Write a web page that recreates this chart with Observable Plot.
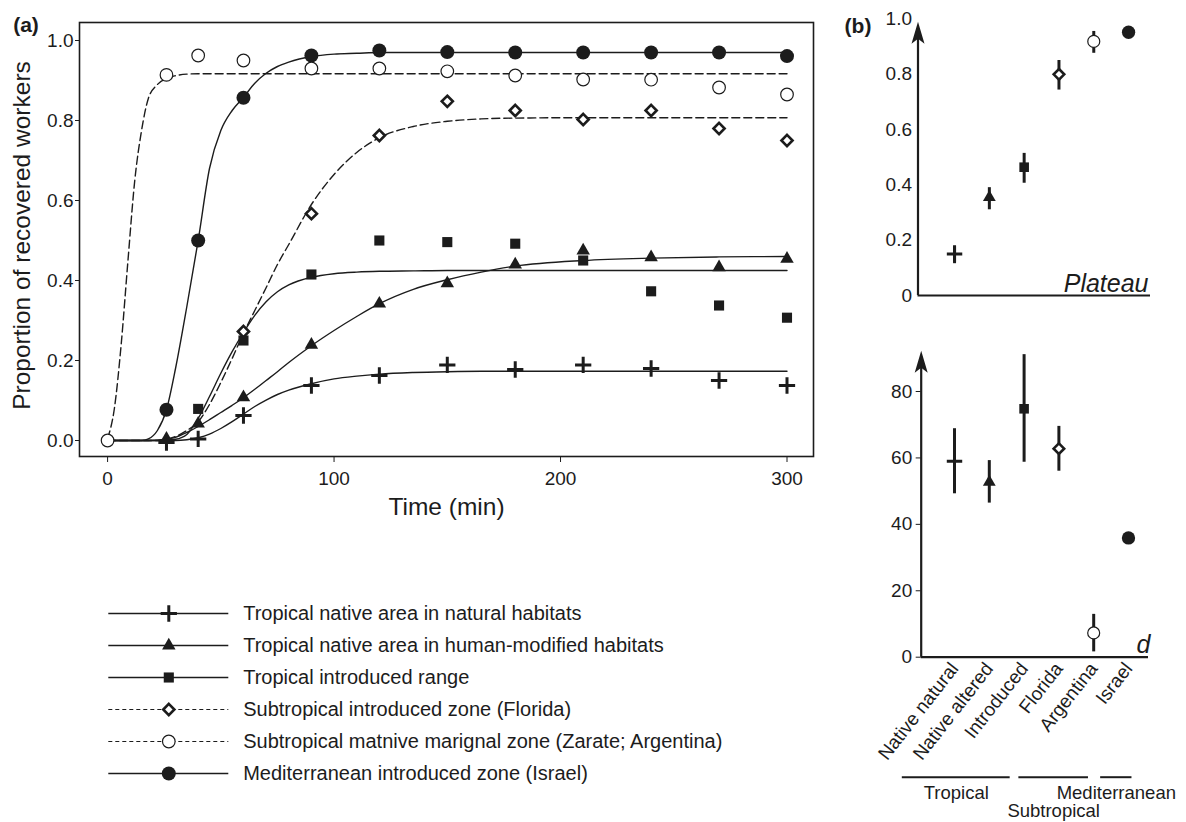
<!DOCTYPE html>
<html><head><meta charset="utf-8">
<script src="https://cdn.jsdelivr.net/npm/d3@7"></script>
<script src="https://cdn.jsdelivr.net/npm/@observablehq/plot@0.6"></script>
<style>
html,body{margin:0;padding:0;background:#fff;}
#root{position:relative;width:1186px;height:822px;overflow:hidden;font-family:"Liberation Sans",Arial,Helvetica,sans-serif;}
.panel{position:absolute;}
.panel svg{overflow:visible;}
</style></head><body><div id="root"></div>
<script>
// ---------------- DATA ----------------
const legendLabels = [
  "Tropical native area in natural habitats",
  "Tropical native area in human-modified habitats",
  "Tropical introduced range",
  "Subtropical introduced zone (Florida)",
  "Subtropical matnive marignal zone (Zarate; Argentina)",
  "Mediterranean introduced zone (Israel)"
];
const times = [0, 26, 40, 60, 90, 120, 150, 180, 210, 240, 270, 300];
const obsNatural   = [null, -0.005, 0.004, 0.0625, 0.1375, 0.1625, 0.189, 0.1775, 0.189, 0.18, 0.15, 0.1375];
const obsAltered   = [null, 0.004, 0.042, 0.108, 0.239, 0.342, 0.393, 0.44, 0.475, 0.458, 0.433, 0.454];
const obsIntroduced= [null, null, 0.079, 0.25, 0.415, 0.5, 0.496, 0.492, 0.45, 0.373, 0.3375, 0.307];
const obsFlorida   = [null, null, null, 0.2725, 0.567, 0.7625, 0.848, 0.825, 0.8025, 0.825, 0.78, 0.75];
const obsArgentina = [0, 0.914, 0.9625, 0.95, 0.93, 0.93, 0.923, 0.9125, 0.9025, 0.902, 0.8825, 0.865];
const obsIsrael    = [null, 0.077, 0.50, 0.857, 0.9625, 0.975, 0.971, 0.97, 0.97, 0.97, 0.97, 0.961];

// fitted curves
const fitT = [0, 3, 6, 9, 12, 15, 18, 22, 26, 30, 35, 40, 45, 50, 55, 60, 65, 70, 75, 80, 90, 100, 110, 120, 135, 150, 165, 180, 210, 240, 270, 300];
const fitNatural    = [0,0,0,0,0,0,0,0,0,0,0.002,0.007,0.016,0.03,0.047,0.066,0.085,0.101,0.115,0.126,0.142,0.154,0.161,0.166,0.17,0.172,0.173,0.173,0.173,0.173,0.173,0.173];
const fitAltered    = [0,0,0,0,0,0,0,0.001,0.003,0.008,0.02,0.035,0.052,0.07,0.088,0.107,0.128,0.15,0.172,0.195,0.237,0.275,0.31,0.342,0.378,0.402,0.421,0.436,0.45,0.456,0.459,0.46];
const fitIntroduced = [0,0,0,0,0,0,0,0,0.001,0.003,0.015,0.055,0.11,0.168,0.222,0.27,0.313,0.347,0.372,0.389,0.408,0.417,0.421,0.423,0.424,0.425,0.425,0.425,0.425,0.425,0.425,0.425];
const fitFlorida    = [0,0,0,0,0,0,0,0,0.003,0.01,0.025,0.047,0.09,0.145,0.205,0.268,0.325,0.382,0.44,0.49,0.59,0.665,0.72,0.757,0.785,0.798,0.804,0.806,0.807,0.807,0.807,0.807];
const fitArgentina  = [0.005,0.08,0.24,0.45,0.65,0.775,0.855,0.89,0.905,0.912,0.916,0.917,0.917,0.917,0.917,0.917,0.917,0.917,0.917,0.917,0.917,0.917,0.917,0.917,0.917,0.917,0.917,0.917,0.917,0.917,0.917,0.917];
const fitIsrael     = [0,0,0,0,0,0,0.004,0.025,0.077,0.18,0.335,0.5,0.68,0.775,0.825,0.858,0.893,0.918,0.935,0.946,0.96,0.966,0.968,0.97,0.97,0.97,0.97,0.97,0.97,0.97,0.97,0.97];

const xTicksA = [0, 100, 200, 300];
const yTicksA = [0, 0.2, 0.4, 0.6, 0.8, 1.0];

// panel (b)
const bCats = ["Native natural", "Native altered", "Introduced", "Florida", "Argentina", "Israel"];
const plateau   = [0.15, 0.355, 0.464, 0.80, 0.919, 0.952];
const plateauLo = [0.115, 0.31, 0.406, 0.743, 0.876, null];
const plateauHi = [0.18, 0.39, 0.514, 0.85, 0.955, null];
const dVals = [59, 52.7, 74.8, 62.8, 7.3, 35.9];
const dLo   = [49.2, 46.4, 58.7, 56, 1.6, null];
const dHi   = [68.8, 59.2, 91.1, 69.5, 12.9, null];
const bGroups = ["Tropical", "Subtropical", "Mediterranean"];
const bGroupOf = [0, 0, 0, 1, 1, 2];
const yTicksPlateau = [0, 0.2, 0.4, 0.6, 0.8, 1.0];
const yTicksD = [0, 20, 40, 60, 80];

// ---------------- STYLE ----------------
const ink = "#1c1c1c";
const font = "Liberation Sans, Arial, Helvetica, sans-serif";
const styles = [
  {symbol: "plus", r: 5.3, fill: "none", stroke: ink, sw: 3, dashed: false},
  {symbol: "triangle", r: 5, fill: ink, stroke: "none", sw: 0, dashed: false},
  {symbol: "square", r: 5.7, fill: ink, stroke: "none", sw: 0, dashed: false},
  {symbol: "diamond2", r: 5, fill: "white", stroke: ink, sw: 2.6, dashed: true},
  {symbol: "circle", r: 6.3, fill: "white", stroke: ink, sw: 1.2, dashed: true},
  {symbol: "circle", r: 7, fill: ink, stroke: "none", sw: 0, dashed: false}
];
const obsAll = [obsNatural, obsAltered, obsIntroduced, obsFlorida, obsArgentina, obsIsrael];
const fitAll = [fitNatural, fitAltered, fitIntroduced, fitFlorida, fitArgentina, fitIsrael];
const dotOrder = [2, 0, 1, 3, 5, 4];

function dotMark(data, st, opts, scale = 1) {
  return Plot.dot(data, Object.assign({symbol: st.symbol, r: st.r * scale, fill: st.fill, stroke: st.stroke, strokeWidth: st.sw}, opts));
}
const root = document.getElementById("root");
function place(el, left, top) {
  const d = document.createElement("div");
  d.className = "panel"; d.style.left = left + "px"; d.style.top = top + "px";
  d.appendChild(el); root.appendChild(d);
}
const baseStyle = {fontFamily: font, fontSize: "19px", color: ink, background: "transparent"};

// ---------------- PANEL (a) ----------------
{
  const marks = [];
  fitAll.forEach((f, k) => {
    marks.push(Plot.line(fitT.map((t, i) => ({t, v: f[i]})), {
      x: "t", y: "v", curve: "monotone-x", stroke: ink, strokeWidth: 1.4,
      strokeDasharray: styles[k].dashed ? "8,4" : null
    }));
  });
  dotOrder.forEach(k => {
    const pts = times.map((t, i) => ({t, v: obsAll[k][i]})).filter(d => d.v != null);
    marks.push(dotMark(pts, styles[k], {x: "t", y: "v"}));
  });
  marks.push(
    Plot.frame({stroke: ink, strokeWidth: 1.6}),
    Plot.axisX({ticks: xTicksA, tickSize: 6, tickPadding: 9, fontSize: 19, label: null}),
    Plot.axisY({ticks: yTicksA, tickFormat: d => d.toFixed(1), tickSize: 4, tickPadding: 2, fontSize: 19, label: null}),
    Plot.text(["Proportion of recovered workers"], {text: d => d, frameAnchor: "left", textAnchor: "middle", lineAnchor: "middle", rotate: -90, dx: -57, dy: -4, fontSize: 24.5}),
    Plot.text(["Time (min)"], {text: d => d, frameAnchor: "bottom", textAnchor: "middle", lineAnchor: "middle", dy: 51, fontSize: 24.5}),
    Plot.text(["(a)"], {text: d => d, frameAnchor: "top-left", textAnchor: "middle", lineAnchor: "middle", dx: -53.5, dy: 3, fontSize: 21, fontWeight: "bold"})
  );
  place(Plot.plot({
    width: 830, height: 530, marginLeft: 79, marginRight: 17, marginTop: 22, marginBottom: 74,
    x: {domain: [-12.4, 311.7]}, y: {domain: [-0.04, 1.045]},
    style: baseStyle, marks
  }), 0, 0);
}

// ---------------- LEGEND ----------------
{
  const rows = legendLabels.map((name, k) => ({name, k}));
  const marks = [
    Plot.ruleY(rows.filter(d => !styles[d.k].dashed), {y: "name", x1: 0, x2: 1, stroke: ink, strokeWidth: 1.4}),
    Plot.ruleY(rows.filter(d => styles[d.k].dashed), {y: "name", x1: 0, x2: 1, stroke: ink, strokeWidth: 1.2, strokeDasharray: "4,3"})
  ];
  rows.forEach(d => marks.push(dotMark([d], styles[d.k], {x: 0.5, y: "name"})));
  marks.push(Plot.text(rows, {x: 1, y: "name", text: "name", dx: 14.4, textAnchor: "start", fontSize: 20}));
  place(Plot.plot({
    width: 830, height: 200, marginLeft: 108.3, marginRight: 601.7, marginTop: 21.7, marginBottom: 16.7,
    x: {domain: [0, 1], axis: null},
    y: {type: "point", domain: legendLabels, padding: 0, axis: null},
    style: baseStyle, marks
  }), 0, 590);
}

// arrowhead symbol for the panel (b) axes
const arrowHead = {draw(ctx) { ctx.moveTo(0, 0); ctx.lineTo(6.5, 22); ctx.lineTo(0, 17); ctx.lineTo(-6.5, 22); ctx.closePath(); }};

function panelB({values, lo, hi, yDomain, tip, yTicks, tickFmt, tickSize, tickPadding, width, height, ml, mr, mt, mb, xDomain, extra}) {
  const idx = bCats.map((c, i) => i);
  const marks = [
    Plot.ruleY([yDomain[0]], {stroke: ink, strokeWidth: 2.2}),
    Plot.ruleX([xDomain[0]], {y1: yDomain[0], y2: tip * 0.97, stroke: ink, strokeWidth: 2.2}),
    Plot.dot([xDomain[0]], {x: d => d, y: tip, symbol: arrowHead, r: 1, fill: ink, stroke: "none"}),
    Plot.axisY({ticks: yTicks, tickFormat: tickFmt, tickSize, tickPadding, fontSize: 19, label: null}),
    Plot.ruleX(idx.filter(i => lo[i] != null), {x: d => d, y1: i => lo[i], y2: i => hi[i], stroke: ink, strokeWidth: 3})
  ];
  idx.forEach(i => marks.push(dotMark([i], styles[i], {x: d => d, y: values[i]}, 0.95)));
  marks.push(...extra(idx));
  return Plot.plot({
    width, height, marginLeft: ml, marginRight: mr, marginTop: mt, marginBottom: mb,
    x: {domain: xDomain, axis: null}, y: {domain: yDomain, axis: null},
    style: baseStyle, marks
  });
}

// ---------------- PANEL (b) top : Plateau ----------------
place(panelB({
  values: plateau, lo: plateauLo, hi: plateauHi, yDomain: [0, 1], tip: 0.99,
  yTicks: yTicksPlateau, tickFmt: d => d === 0 ? "0" : d.toFixed(1), tickSize: 0, tickPadding: 6,
  width: 356, height: 310, ml: 87.5, mr: 36, mt: 18.5, mb: 15, xDomain: [-1.05, 5.63],
  extra: () => [
    Plot.text(["Plateau"], {text: d => d, frameAnchor: "bottom-right", textAnchor: "end", lineAnchor: "bottom", dx: -2, dy: -3.5, fontSize: 25, fontStyle: "italic"}),
    Plot.text(["(b)"], {text: d => d, frameAnchor: "top-left", textAnchor: "middle", lineAnchor: "middle", dx: -60, dy: 7, fontSize: 21, fontWeight: "bold"})
  ]
}), 830, 0);

// ---------------- PANEL (b) bottom : d ----------------
{
  const spans = bGroups.map((g, gi) => {
    const members = bGroupOf.map((v, i) => v === gi ? i : null).filter(v => v != null);
    const first = members[0], last = members[members.length - 1], n = members.length;
    const x1 = first - 0.8 - 0.35 * (n - 1), x2 = last + 0.1 - 0.25 * (n - 1);
    return {g, gi, x1, x2, xm: (x1 + x2) / 2};
  });
  place(panelB({
    values: dVals, lo: dLo, hi: dHi, yDomain: [0, 90], tip: 92.3,
    yTicks: yTicksD, tickFmt: d => String(d), tickSize: 5, tickPadding: 4,
    width: 356, height: 512, ml: 90.7, mr: 38, mt: 47.8, mb: 165.3, xDomain: [-0.957, 5.575],
    extra: (idx) => [
      Plot.axisX({ticks: idx, tickFormat: i => bCats[i], tickRotate: -52, tickSize: 0, tickPadding: 8, fontSize: 19, label: null}),
      Plot.text(["d"], {text: d => d, frameAnchor: "bottom-right", textAnchor: "end", lineAnchor: "bottom", dx: 2, dy: -4, fontSize: 25, fontStyle: "italic"}),
      Plot.ruleY(spans, {y: 0, x1: "x1", x2: "x2", dy: 120, stroke: ink, strokeWidth: 2}),
      Plot.text(spans.filter(s => s.gi % 2 === 0), {x: "xm", y: 0, text: "g", dy: 136.3, fontSize: 18.5}),
      Plot.text(spans.filter(s => s.gi % 2 === 1), {x: "xm", y: 0, text: "g", dy: 153.5, fontSize: 18.5})
    ]
  }), 830, 310);
}
</script></body></html>
